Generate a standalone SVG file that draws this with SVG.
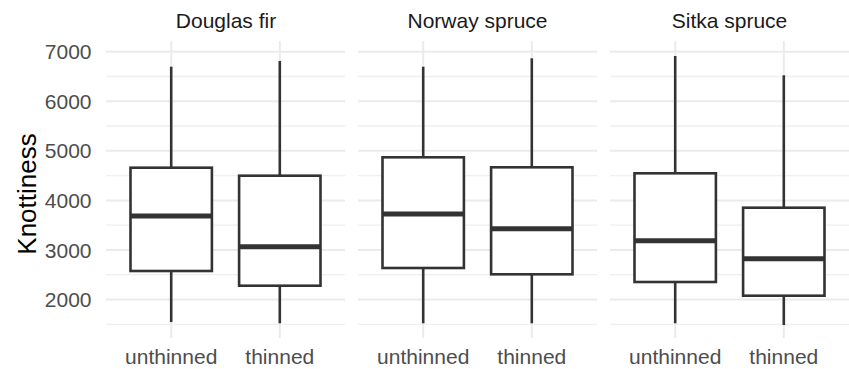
<svg xmlns="http://www.w3.org/2000/svg" width="849" height="369" viewBox="0 0 849 369">
<style>
text{font-family:"Liberation Sans",Arial,sans-serif}
.maj{stroke:#ebebeb;stroke-width:2}
.min{stroke:#efefef;stroke-width:1.3}
.tick{font-size:21px;fill:#4d4d4d}
.strip{font-size:21px;fill:#1a1a1a;text-anchor:middle}
.xl{font-size:21px;fill:#4d4d4d;text-anchor:middle}
.box rect{fill:#ffffff;stroke:#333333;stroke-width:2.6}
.box line{stroke:#333333;stroke-width:2.6}
.box line.med{stroke-width:5}
</style>
<rect width="849" height="369" fill="#ffffff"/>
<defs>
<g id="grid">
<line class="min" x1="0" x2="239" y1="76.5" y2="76.5"/>
<line class="min" x1="0" x2="239" y1="126" y2="126"/>
<line class="min" x1="0" x2="239" y1="175.6" y2="175.6"/>
<line class="min" x1="0" x2="239" y1="225.1" y2="225.1"/>
<line class="min" x1="0" x2="239" y1="274.7" y2="274.7"/>
<line class="min" x1="0" x2="239" y1="324.3" y2="324.3"/>
<line class="maj" x1="0" x2="239" y1="51.7" y2="51.7"/>
<line class="maj" x1="0" x2="239" y1="101.3" y2="101.3"/>
<line class="maj" x1="0" x2="239" y1="150.8" y2="150.8"/>
<line class="maj" x1="0" x2="239" y1="200.4" y2="200.4"/>
<line class="maj" x1="0" x2="239" y1="250" y2="250"/>
<line class="maj" x1="0" x2="239" y1="299.5" y2="299.5"/>
<line class="maj" x1="65.2" x2="65.2" y1="41" y2="338"/>
<line class="maj" x1="173.8" x2="173.8" y1="41" y2="338"/>
</g>
</defs>
<g id="gridlines">
<use href="#grid" x="106"/>
<use href="#grid" x="358"/>
<use href="#grid" x="610"/>
</g>
<g id="y-axis">
<text class="tick" x="91.5" y="59.2" text-anchor="end">7000</text>
<text class="tick" x="91.5" y="108.8" text-anchor="end">6000</text>
<text class="tick" x="91.5" y="158.3" text-anchor="end">5000</text>
<text class="tick" x="91.5" y="207.9" text-anchor="end">4000</text>
<text class="tick" x="91.5" y="257.5" text-anchor="end">3000</text>
<text class="tick" x="91.5" y="307" text-anchor="end">2000</text>
<text x="36" y="194" font-size="26px" fill="#000000" text-anchor="middle" transform="rotate(-90 36 194)">Knottiness</text>
</g>
<g id="strips">
<text class="strip" x="226" y="28">Douglas fir</text>
<text class="strip" x="477.5" y="28">Norway spruce</text>
<text class="strip" x="729.5" y="28">Sitka spruce</text>
</g>
<g id="x-axis">
<text class="xl" x="171.2" y="364">unthinned</text>
<text class="xl" x="279.8" y="364">thinned</text>
<text class="xl" x="423.2" y="364">unthinned</text>
<text class="xl" x="531.8" y="364">thinned</text>
<text class="xl" x="675.2" y="364">unthinned</text>
<text class="xl" x="783.8" y="364">thinned</text>
</g>
<g id="connectors">
<g class="box">
<line x1="171.2" x2="171.2" y1="66.7" y2="167.7"/>
<line x1="171.2" x2="171.2" y1="271" y2="322"/>
<line x1="279.8" x2="279.8" y1="61" y2="175.7"/>
<line x1="279.8" x2="279.8" y1="285.7" y2="323.3"/>
<line x1="423.2" x2="423.2" y1="66.7" y2="157.3"/>
<line x1="423.2" x2="423.2" y1="268" y2="323.3"/>
<line x1="531.8" x2="531.8" y1="58.3" y2="167.3"/>
<line x1="531.8" x2="531.8" y1="274.3" y2="323.3"/>
<line x1="675.2" x2="675.2" y1="56" y2="173.3"/>
<line x1="675.2" x2="675.2" y1="282" y2="323.3"/>
<line x1="783.8" x2="783.8" y1="75.3" y2="207.7"/>
<line x1="783.8" x2="783.8" y1="295.7" y2="325"/>
</g>
</g>
<g id="douglas-unthinned" class="box">
<rect x="130.5" y="167.7" width="81.4" height="103.3"/>
<line class="med" x1="130.5" x2="211.9" y1="216" y2="216"/>
</g>
<g id="douglas-thinned" class="box">
<rect x="239.1" y="175.7" width="81.4" height="110"/>
<line class="med" x1="239.1" x2="320.5" y1="246.7" y2="246.7"/>
</g>
<g id="norway-unthinned" class="box">
<rect x="382.5" y="157.3" width="81.4" height="110.7"/>
<line class="med" x1="382.5" x2="463.9" y1="214" y2="214"/>
</g>
<g id="norway-thinned" class="box">
<rect x="491.1" y="167.3" width="81.4" height="107"/>
<line class="med" x1="491.1" x2="572.5" y1="228.7" y2="228.7"/>
</g>
<g id="sitka-unthinned" class="box">
<rect x="634.5" y="173.3" width="81.4" height="108.7"/>
<line class="med" x1="634.5" x2="715.9" y1="240.7" y2="240.7"/>
</g>
<g id="sitka-thinned" class="box">
<rect x="743.1" y="207.7" width="81.4" height="88"/>
<line class="med" x1="743.1" x2="824.5" y1="258.7" y2="258.7"/>
</g>
</svg>
